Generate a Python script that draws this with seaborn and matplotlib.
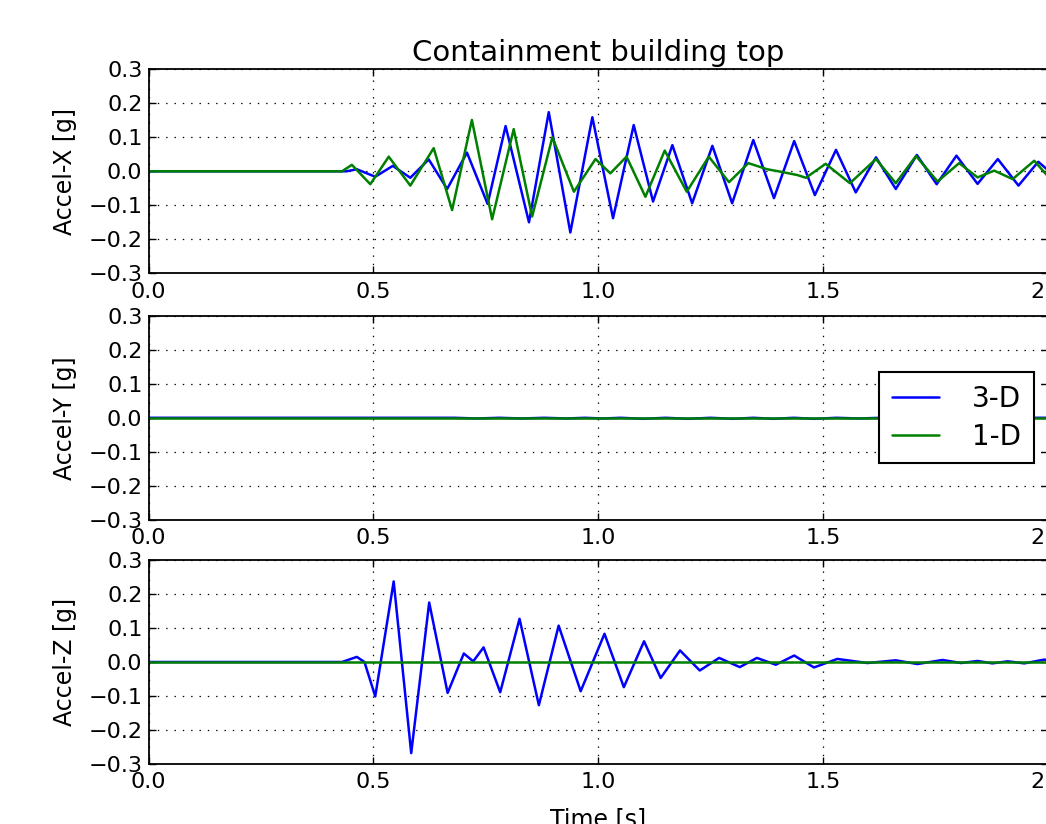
import numpy as np
import pandas as pd
import matplotlib
matplotlib.use("Agg")
import matplotlib.pyplot as plt
import seaborn as sns

# ---------------- data ----------------
models = ["3-D", "1-D"]
components = ["X", "Y", "Z"]

# Accel-X, 3-D (blue): extrema
x3d_t = [0.0, 0.44, 0.463, 0.504, 0.543, 0.582, 0.623, 0.664, 0.708, 0.754,
         0.794, 0.846, 0.890, 0.938, 0.987, 1.033, 1.079, 1.122, 1.165, 1.209,
         1.254, 1.298, 1.345, 1.391, 1.436, 1.482, 1.529, 1.573, 1.618, 1.662,
         1.709, 1.753, 1.797, 1.844, 1.889, 1.935, 1.979, 2.0]
x3d_v = [0.0, 0.0, 0.006, -0.016, 0.016, -0.019, 0.035, -0.052, 0.055, -0.096,
         0.133, -0.150, 0.174, -0.180, 0.159, -0.138, 0.136, -0.089, 0.077, -0.094,
         0.075, -0.094, 0.092, -0.079, 0.089, -0.070, 0.063, -0.062, 0.041, -0.052,
         0.048, -0.038, 0.046, -0.037, 0.036, -0.042, 0.028, 0.004]

# Accel-X, 1-D (green): extrema
x1d_t = [0.0, 0.43, 0.452, 0.493, 0.534, 0.582, 0.634, 0.675, 0.719, 0.764,
         0.812, 0.853, 0.898, 0.946, 0.994, 1.027, 1.063, 1.105, 1.148, 1.197,
         1.246, 1.291, 1.334, 1.376, 1.413, 1.443, 1.462, 1.506, 1.560, 1.618,
         1.662, 1.707, 1.755, 1.803, 1.844, 1.881, 1.922, 1.970, 2.0]
x1d_v = [0.0, 0.0, 0.019, -0.038, 0.043, -0.042, 0.068, -0.114, 0.151, -0.141,
         0.124, -0.133, 0.100, -0.060, 0.036, -0.006, 0.043, -0.075, 0.061, -0.060,
         0.043, -0.032, 0.024, 0.006, -0.003, -0.011, -0.019, 0.022, -0.035, 0.036,
         -0.035, 0.045, -0.030, 0.024, -0.018, 0.002, -0.023, 0.031, -0.014]

# Accel-Y, 3-D (blue): tiny dips just below the green line
y3d_t = [0.0, 0.68, 0.73, 0.78, 0.83, 0.88, 0.93, 0.97, 1.01, 1.05, 1.10, 1.15,
         1.20, 1.25, 1.30, 1.345, 1.39, 1.435, 1.48, 1.53, 1.58, 1.63, 1.68,
         1.73, 1.78, 1.85, 2.0]
y3d_v = [0.0, 0.0, -0.002, 0.0, -0.002, 0.0, -0.002, 0.0, -0.002, 0.0, -0.003,
         0.0, -0.003, 0.0, -0.003, 0.0, -0.003, 0.0, -0.003, 0.0, -0.002, 0.0,
         -0.002, 0.0, -0.001, 0.0, 0.0]

# Accel-Y, 1-D (green)
y1d_t = [0.0, 2.0]
y1d_v = [0.0, 0.0]

# Accel-Z, 3-D (blue): extrema
z3d_t = [0.0, 0.43, 0.463, 0.480, 0.504, 0.545, 0.584, 0.624, 0.665, 0.701,
         0.722, 0.745, 0.782, 0.825, 0.868, 0.912, 0.961, 1.014, 1.057, 1.102,
         1.139, 1.182, 1.226, 1.269, 1.315, 1.353, 1.395, 1.436, 1.480, 1.532,
         1.599, 1.662, 1.710, 1.766, 1.807, 1.844, 1.877, 1.911, 1.948, 1.992, 2.0]
z3d_v = [0.0, 0.0, 0.015, 0.0, -0.101, 0.237, -0.268, 0.175, -0.091, 0.025,
         0.002, 0.043, -0.089, 0.127, -0.127, 0.107, -0.086, 0.083, -0.074, 0.061,
         -0.047, 0.034, -0.025, 0.012, -0.015, 0.012, -0.008, 0.019, -0.016, 0.009,
         -0.003, 0.005, -0.006, 0.006, -0.003, 0.003, -0.004, 0.002, -0.004, 0.007, 0.006]

# Accel-Z, 1-D (green)
z1d_t = [0.0, 2.0]
z1d_v = [0.0, 0.0]

x_ticks = [0.0, 0.5, 1.0, 1.5, 2.0]
y_ticks = [-0.3, -0.2, -0.1, 0.0, 0.1, 0.2, 0.3]
y_labels = ["Accel-X [g]", "Accel-Y [g]", "Accel-Z [g]"]
title = "Containment building top"
x_label = "Time [s]"

series = {
    ("X", "3-D"): (x3d_t, x3d_v), ("X", "1-D"): (x1d_t, x1d_v),
    ("Y", "3-D"): (y3d_t, y3d_v), ("Y", "1-D"): (y1d_t, y1d_v),
    ("Z", "3-D"): (z3d_t, z3d_v), ("Z", "1-D"): (z1d_t, z1d_v),
}
frames = []
for (comp, model), (t, v) in series.items():
    frames.append(pd.DataFrame({"time": t, "accel": v, "model": model, "component": comp}))
df = pd.concat(frames, ignore_index=True)

# ---------------- style ----------------
sns.set_theme(style="white")
plt.rcParams.update({
    "font.family": ["DejaVu Sans"],
    "axes.edgecolor": "black",
    "axes.linewidth": 1.3,
    "xtick.direction": "in", "ytick.direction": "in",
    "xtick.top": True, "ytick.right": True,
    "xtick.bottom": True, "ytick.left": True,
    "xtick.major.size": 5, "ytick.major.size": 5,
    "xtick.major.width": 1.0, "ytick.major.width": 1.0,
    "xtick.major.pad": 6, "ytick.major.pad": 4.5,
    "xtick.color": "black", "ytick.color": "black",
    "xtick.labelsize": 16, "ytick.labelsize": 16,
    "axes.labelsize": 17, "axes.titlesize": 21,
    "text.color": "black", "axes.labelcolor": "black",
    "lines.scale_dashes": False,
    "axes.unicode_minus": True,
})

palette = {"3-D": "#0000ff", "1-D": "#008000"}

fig = plt.figure(figsize=(10.46, 8.24), dpi=100, facecolor="white")
W, H = 1046.0, 824.0
left = 148.7 / W
width = 899.0 / W
tops = [69.3, 315.8, 560.0]
axes = []
for tp in tops:
    ax = fig.add_axes([left, 1 - (tp + 204.0) / H, width, 204.0 / H])
    axes.append(ax)

for i, (ax, comp) in enumerate(zip(axes, components)):
    sub = df[df["component"] == comp]
    sns.lineplot(data=sub, x="time", y="accel", hue="model", hue_order=models,
                 palette=palette, estimator=None, sort=False, linewidth=1.8,
                 ax=ax, legend=(comp == "Y"))
    ax.set_xlim(0, 2)
    ax.set_ylim(-0.3, 0.3)
    ax.set_xticks(x_ticks)
    ax.set_yticks(y_ticks)
    ax.grid(True, color="black", linestyle=(0, (1, 5)), linewidth=0.9)
    ax.set_ylabel(y_labels[i], labelpad=8)
    if i == 2:
        ax.set_xlabel(x_label, labelpad=10.5)
    else:
        ax.set_xlabel("")
    for sp in ax.spines.values():
        sp.set_visible(True)
        sp.set_color("black")
        sp.set_linewidth(1.3)

axes[0].set_title(title)

sns.move_legend(axes[1], "center right", title=None, fontsize=20, frameon=True,
                fancybox=False, edgecolor="black", framealpha=1, borderpad=0.45,
                handlelength=1.7, handletextpad=1.2, labelspacing=0.35,
                borderaxespad=0.5)
leg = axes[1].get_legend()
leg.get_frame().set_linewidth(1.5)
for h in leg.legend_handles:
    h.set_linewidth(1.8)

fig.savefig("out.png", dpi=100, facecolor="white")
